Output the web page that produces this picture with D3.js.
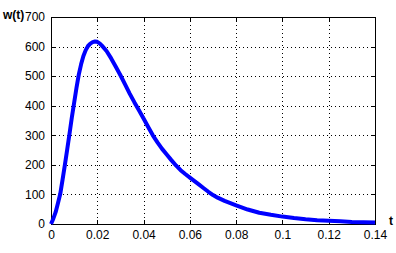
<!DOCTYPE html>
<html>
<head>
<meta charset="utf-8">
<title>w(t)</title>
<script src="https://cdn.jsdelivr.net/npm/d3@7"></script>
<style>
body { margin: 0; background: #fff; }
svg { display: block; font-family: "Liberation Sans", Arial, sans-serif; }
.grid line { stroke: #000; stroke-dasharray: 1,3; shape-rendering: crispEdges; }
.axis text { font-size: 12px; fill: #000; }
.axis line { stroke: #000; shape-rendering: crispEdges; }
</style>
</head>
<body>
<svg width="396" height="253"></svg>
<script>
// curve
var tVals = [0, 0.001, 0.002, 0.003, 0.004, 0.005, 0.006, 0.007, 0.008, 0.009,
  0.010, 0.011, 0.012, 0.013, 0.014, 0.015, 0.016, 0.017, 0.018, 0.019,
  0.020, 0.021, 0.022, 0.024, 0.026, 0.028, 0.030, 0.032, 0.034, 0.036,
  0.038, 0.040, 0.042, 0.044, 0.046, 0.048, 0.050, 0.052, 0.054, 0.056,
  0.058, 0.060, 0.062, 0.064, 0.066, 0.068, 0.070, 0.072, 0.075, 0.080,
  0.085, 0.090, 0.095, 0.100, 0.105, 0.110, 0.115, 0.120, 0.125, 0.130,
  0.135, 0.140];
var wVals = [0, 18, 40, 70, 102, 150, 200, 252, 305, 360,
  410, 460, 505, 540, 568, 588, 602, 610, 615, 617,
  616, 611, 603, 585, 560, 532, 503, 472, 441, 412,
  385, 357, 328, 300, 276, 254, 235, 216, 198, 182,
  169, 157, 145, 133, 121, 109, 98, 89, 78, 63,
  49, 38, 31, 25, 20, 16, 13, 11, 9, 7,
  6, 5];
var xTicks = [0, 0.02, 0.04, 0.06, 0.08, 0.1, 0.12, 0.14];
var xTickLabels = ["0", "0.02", "0.04", "0.06", "0.08", "0.1", "0.12", "0.14"];
var yTicks = [0, 100, 200, 300, 400, 500, 600, 700];

var margin = {top: 17, right: 21, bottom: 29, left: 51};
var width = 396 - margin.left - margin.right;
var height = 253 - margin.top - margin.bottom;

var svg = d3.select("svg")
  .append("g")
  .attr("transform", "translate(" + margin.left + "," + margin.top + ")");

var x = d3.scaleLinear().domain([0, 0.14]).range([0, width]);
var y = d3.scaleLinear().domain([0, 700]).range([height, 0]);

// dotted grid
var grid = svg.append("g").attr("class", "grid");
grid.selectAll(".gx")
  .data(xTicks.slice(1, -1))
  .enter().append("line")
  .attr("x1", function(d) { return Math.round(x(d)) + 0.5; })
  .attr("x2", function(d) { return Math.round(x(d)) + 0.5; })
  .attr("y1", 0)
  .attr("y2", height);
grid.selectAll(".gy")
  .data(yTicks.slice(1, -1))
  .enter().append("line")
  .attr("y1", function(d) { return Math.round(y(d)) + 0.5; })
  .attr("y2", function(d) { return Math.round(y(d)) + 0.5; })
  .attr("x1", 0)
  .attr("x2", width);

// axes with inward ticks
svg.append("g")
  .attr("class", "axis")
  .attr("transform", "translate(0," + height + ")")
  .call(d3.axisBottom(x).tickValues(xTicks)
    .tickFormat(function(d, i) { return xTickLabels[i]; })
    .tickSizeInner(-4).tickSizeOuter(0).tickPadding(6))
  .call(function(g) { g.select(".domain").remove(); });

svg.append("g")
  .attr("class", "axis")
  .call(d3.axisLeft(y).tickValues(yTicks)
    .tickSizeInner(-4).tickSizeOuter(0).tickPadding(6))
  .call(function(g) { g.select(".domain").remove(); });

svg.append("g")
  .attr("class", "axis")
  .call(d3.axisTop(x).tickValues(xTicks).tickFormat("")
    .tickSizeInner(-4).tickSizeOuter(0))
  .call(function(g) { g.select(".domain").remove(); });

svg.append("g")
  .attr("class", "axis")
  .attr("transform", "translate(" + width + ",0)")
  .call(d3.axisRight(y).tickValues(yTicks).tickFormat("")
    .tickSizeInner(-4).tickSizeOuter(0))
  .call(function(g) { g.select(".domain").remove(); });

// frame
svg.append("rect")
  .attr("x", 0.5)
  .attr("y", 0.5)
  .attr("width", width - 0.5)
  .attr("height", height - 0.5)
  .attr("fill", "none")
  .attr("stroke", "#000")
  .attr("shape-rendering", "crispEdges");

// curve
var line = d3.line()
  .x(function(d, i) { return x(tVals[i]); })
  .y(function(d) { return y(d); });

svg.append("path")
  .datum(wVals)
  .attr("fill", "none")
  .attr("stroke", "#0000ff")
  .attr("stroke-width", 4)
  .attr("stroke-linejoin", "round")
  .attr("d", line);

// axis labels
svg.append("text")
  .attr("x", 3 - margin.left)
  .attr("y", 2)
  .style("font-size", "12px")
  .style("font-weight", "bold")
  .text("w(t)");

svg.append("text")
  .attr("x", width + 14)
  .attr("y", height + 1)
  .style("font-size", "12px")
  .style("font-weight", "bold")
  .text("t");
</script>
</body>
</html>
